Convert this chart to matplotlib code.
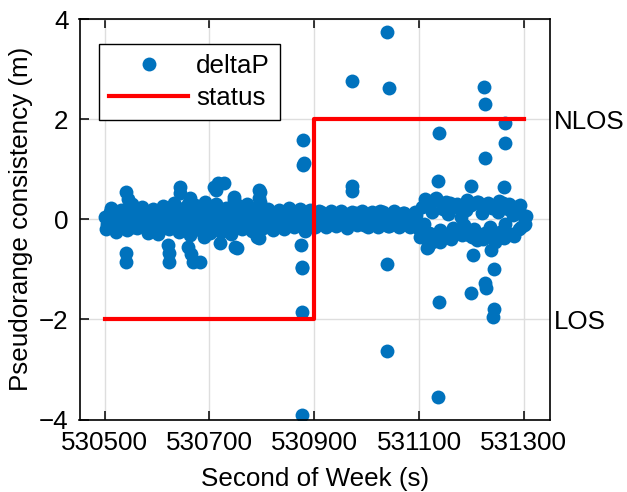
import numpy as np
import matplotlib
matplotlib.use("Agg")
import matplotlib.pyplot as plt

plt.rcParams['font.family'] = ['Liberation Sans', 'DejaVu Sans']

# dense band of deltaP, one sample every 5 s from 530500
band_t0 = 530500
band_step = 5
band_vals = [
    0.05, -0.10, 0.15, -0.05, 0.02, -0.15, 0.10, -0.08, 0.18, -0.12,
    0.06, -0.16, 0.12, 0.00, -0.10, 0.16, -0.04, 0.08, -0.14, 0.03,
    -0.08, 0.14, -0.18, 0.05, 0.18, -0.12, 0.02, -0.06, 0.15, -0.16,
    0.10, -0.04, 0.20, -0.18, 0.06, -0.10, 0.14, -0.02, 0.08, -0.14,
    0.12, -0.18, 0.04, 0.18, -0.08, 0.15, -0.16, 0.06, 0.20, -0.12,
    0.02, -0.15, 0.12, -0.06, 0.16, -0.10, 0.05, 0.18, -0.14, 0.08,
    -0.04, 0.10, -0.12, 0.06, 0.00, -0.08, 0.12, -0.05, 0.08, -0.10,
    0.04, -0.06, 0.10, -0.12, 0.05, 0.12, -0.08, 0.02, 0.14, -0.05,
    0.10, -0.08, 0.16, -0.04, 0.06, -0.12, 0.08, 0.00, -0.10, 0.12,
    -0.06, 0.05, -0.14, 0.10, 0.02, -0.08, 0.12, -0.04, 0.06, -0.12,
    0.08, -0.02, 0.14, -0.10, 0.04, 0.16, -0.06, 0.10, -0.14, 0.02,
    0.10, -0.08, 0.05, -0.12, 0.12, -0.04, 0.06, -0.10, 0.02, 0.08,
    -0.20, 0.25, -0.10, 0.30, -0.28, 0.15, -0.35, 0.38, -0.22, 0.20,
    -0.30, 0.10, 0.32, -0.18, 0.24, -0.26, 0.05, -0.12, 0.18, -0.32,
    0.28, -0.20, 0.35, -0.35, 0.12, -0.28, 0.30, -0.15, 0.22, -0.38,
    0.15, -0.25, 0.32, -0.10, 0.20, -0.30, 0.08, 0.25, -0.20, 0.10,
    -0.12, 0.06,
]

# second pass through the band, every 10 s from 530502
band2_t0 = 530502
band2_step = 10
band2_vals = [
    -0.20, 0.22, -0.25, 0.18, -0.22, 0.30, -0.18, 0.25, -0.28, 0.20,
    -0.30, 0.26, -0.20, 0.32, -0.26, 0.22, -0.32, 0.28, -0.22, 0.35,
    -0.28, 0.30, -0.25, 0.22, -0.30, 0.28, -0.20, 0.30, -0.24, 0.20,
    -0.18, 0.20, -0.22, 0.18, -0.20, 0.22, -0.16, 0.20, -0.24, 0.18,
    -0.16, 0.14, -0.15, 0.17, -0.14, 0.16, -0.17, 0.15, -0.12, 0.16,
    -0.15, 0.12, -0.16, 0.14, -0.13, 0.16, -0.15, 0.12, -0.16, 0.14,
    -0.35, 0.40, -0.30, 0.42, -0.38, 0.35, -0.40, 0.30, -0.32, 0.38,
    -0.36, 0.34, -0.40, 0.32, -0.30, 0.36, -0.38, 0.30, -0.34, 0.28,
    -0.10,
]

# points off the band
out_t = [530541, 530541, 530541, 530545,
         530621, 530623, 530623, 530644, 530644, 530663, 530660, 530668,
         530682, 530665, 530660,
         530708, 530717, 530727, 530713, 530746, 530746, 530720, 530749,
         530752, 530690, 530795, 530797, 530795, 530797, 530790, 530794,
         530875, 530877, 530876, 530876, 530877, 530879, 530880, 530878,
         530973, 530973, 530973, 531038, 531042, 531039, 531038,
         531116, 531118, 531125, 531136, 531139, 531138, 531136, 531130, 531140,
         531199, 531203, 531200, 531210, 531224, 531226, 531226, 531226,
         531228, 531238, 531243, 531243, 531241, 531262, 531264, 531264,
         531245, 531295]
out_v = [0.54, -0.68, -0.85, 0.40,
         -0.51, -0.68, -0.86, 0.64, 0.52, 0.42, -0.55, -0.85,
         -0.85, -0.70, 0.30,
         0.65, 0.72, 0.73, 0.58, 0.45, 0.38, -0.48, -0.55,
         -0.58, -0.35, 0.58, 0.55, 0.42, 0.35, -0.35, -0.38,
         -0.51, -0.97, -0.95, -1.85, -3.91, 1.58, 1.12, 1.08,
         2.76, 0.67, 0.57, 3.75, 2.62, -0.90, -2.63,
         -0.58, -0.56, -0.45, 0.77, 1.73, -1.65, -3.56, 0.40, -0.45,
         0.67, -0.71, -1.48, -0.41, 2.65, 2.30, 1.22, -1.28,
         -1.38, -0.61, -0.99, -1.80, -1.95, 0.64, 1.92, 1.52,
         -0.45, -0.15]

status_t = [530500, 530900, 530900, 531300]
status_v = [-2, -2, 2, 2]

band_t = band_t0 + band_step * np.arange(len(band_vals))
band2_t = band2_t0 + band2_step * np.arange(len(band2_vals))
t_all = np.concatenate([band_t, band2_t, out_t])
v_all = np.concatenate([band_vals, band2_vals, out_v])

fs = 18.7
fig = plt.figure(figsize=(6.27, 4.92), dpi=100)
ax = fig.add_axes([79.5 / 627, 1 - 419.5 / 492, 470.5 / 627, 400.5 / 492])

ax.plot(t_all, v_all, 'o', color='#0072BD', markersize=10,
        markeredgewidth=0, label='deltaP', zorder=2)
ax.plot(status_t, status_v, '-', color='#FF0000', linewidth=3,
        label='status', zorder=3)

ax.set_xlim(530452, 531350)
ax.set_ylim(-4, 4)
ax.set_xticks([530500, 530700, 530900, 531100, 531300])
ax.set_yticks([-4, -2, 0, 2, 4])
ax.ticklabel_format(useOffset=False, style='plain', axis='x')
ax.grid(True, color='#dedede', linewidth=1)
ax.set_axisbelow(True)
ax.tick_params(axis='both', direction='in', length=6.7, width=1.1,
               labelsize=fs, pad=8, top=True, right=False)
for s in ax.spines.values():
    s.set_linewidth(1.2)

ax.set_xlabel('Second of Week (s)', fontsize=fs, labelpad=9)
ax.set_ylabel('Pseudorange consistency (m)', fontsize=fs, labelpad=4)

ax2 = ax.twinx()
ax2.set_ylim(-4, 4)
ax2.set_yticks([-2, 2])
ax2.set_yticklabels(['LOS', 'NLOS'])
ax2.tick_params(axis='y', length=0, labelsize=fs, pad=3)
for s in ax2.spines.values():
    s.set_visible(False)

leg = ax.legend(loc='upper left', bbox_to_anchor=(0.041, 0.9376),
                borderaxespad=0, fontsize=fs, frameon=True, fancybox=False,
                edgecolor='black', framealpha=1, handlelength=3.05,
                handletextpad=0.3, labelspacing=0.28, borderpad=0.4,
                markerfirst=True)
leg.get_frame().set_linewidth(1.0)

fig.savefig('out.png', dpi=100)
